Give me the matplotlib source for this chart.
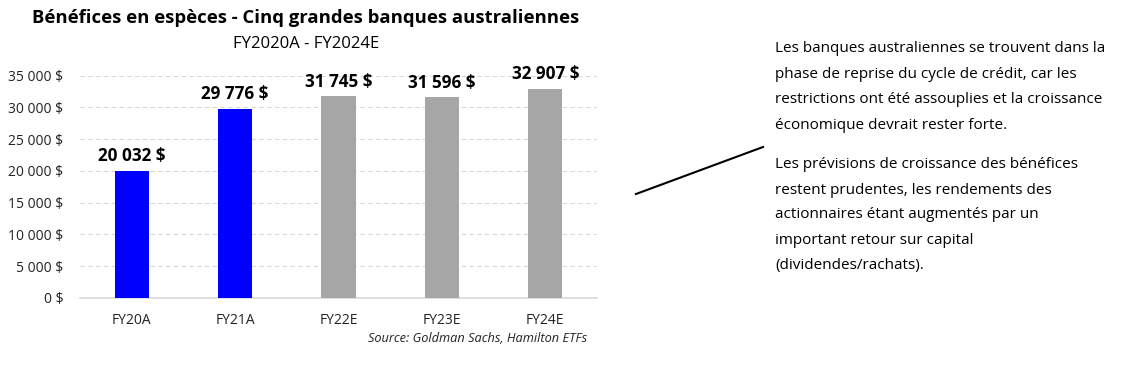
import matplotlib
matplotlib.use("Agg")
import matplotlib.pyplot as plt
from matplotlib.lines import Line2D

# data
years = ["FY20A", "FY21A", "FY22E", "FY23E", "FY24E"]
profits = [20032, 29776, 31745, 31596, 32907]
colors = ["#0000FF", "#0000FF", "#A6A6A6", "#A6A6A6", "#A6A6A6"]
y_ticks = [0, 5000, 10000, 15000, 20000, 25000, 30000, 35000]

title = "Bénéfices en espèces - Cinq grandes banques australiennes"
subtitle = "FY2020A - FY2024E"
source = "Source: Goldman Sachs, Hamilton ETFs"
comment_1 = ["Les banques australiennes se trouvent dans la",
             "phase de reprise du cycle de crédit, car les",
             "restrictions ont été assouplies et la croissance",
             "économique devrait rester forte."]
comment_2 = ["Les prévisions de croissance des bénéfices",
             "restent prudentes, les rendements des",
             "actionnaires étant augmentés par un",
             "important retour sur capital",
             "(dividendes/rachats)."]


def fmt(v):
    return f"{v:,}".replace(",", " ") + " $"


plt.rcParams['font.family'] = ['Open Sans', 'DejaVu Sans']

W, H = 1124, 369
fig = plt.figure(figsize=(W / 100, H / 100), dpi=100)
ax = fig.add_axes([80 / W, 1 - 298 / H, 517 / W, (298 - 75.7) / H])

x = list(range(len(years)))
ax.bar(x, profits, width=0.33, color=colors, zorder=3)
for xi, v in zip(x, profits):
    ax.text(xi, v + 900, fmt(v), ha="center", va="bottom",
            fontsize=12.3, fontweight="bold", color="black")

ax.set_xlim(-0.5, len(years) - 0.5)
ax.set_ylim(0, 35000)
ax.set_yticks(y_ticks)
ax.set_yticklabels([fmt(v) for v in y_ticks], fontsize=10, color="#222222")
ax.set_xticks(x)
ax.set_xticklabels(years, fontsize=10, color="#222222")
ax.tick_params(length=0)
ax.tick_params(axis="y", pad=12)
ax.tick_params(axis="x", pad=11)
ax.yaxis.grid(True, linestyle=(0, (4, 3)), color="#d9d9d9", linewidth=0.8, zorder=0)
for side in ["top", "right", "left"]:
    ax.spines[side].set_visible(False)
ax.spines["bottom"].set_color("#d9d9d9")
ax.spines["bottom"].set_linewidth(1.2)

fig.text(306 / W, 1 - 18 / H, title, ha="center", va="center",
         fontsize=13.3, fontweight="bold")
fig.text(306 / W, 1 - 44 / H, subtitle, ha="center", va="center", fontsize=12)
fig.text(587 / W, 1 - 339 / H, source, ha="right", va="center",
         fontsize=9.2, style="italic", color="#222222")

for i, line in enumerate(comment_1):
    fig.text(775 / W, 1 - (49 + 25.5 * i) / H, line, ha="left", va="center", fontsize=11)
for i, line in enumerate(comment_2):
    fig.text(775 / W, 1 - (165 + 25 * i) / H, line, ha="left", va="center", fontsize=11)

fig.add_artist(Line2D([636 / W, 763 / W], [1 - 194 / H, 1 - 147 / H],
                      transform=fig.transFigure, color="black", linewidth=1.5))

fig.savefig("out.png", dpi=100, facecolor="white")
